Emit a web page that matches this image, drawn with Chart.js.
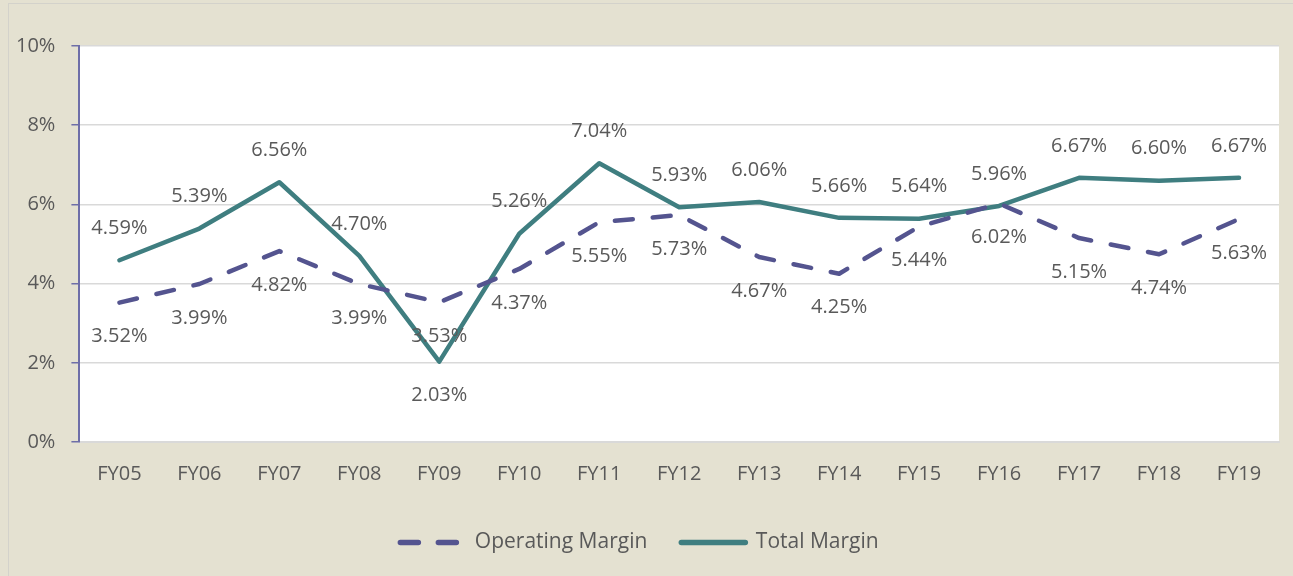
<!DOCTYPE html>
<html>
<head>
<meta charset="utf-8">
<script src="https://cdn.jsdelivr.net/npm/chart.js@4"></script>
<style>
  html, body { margin: 0; padding: 0; background: #e4e1d1; }
  #wrap { width: 1293px; height: 576px; }
</style>
</head>
<body>
<div id="wrap"><canvas id="myChart" width="1293" height="576"></canvas></div>
<script>
const years = ['FY05','FY06','FY07','FY08','FY09','FY10','FY11','FY12','FY13','FY14','FY15','FY16','FY17','FY18','FY19'];
const operatingMargin = [3.52, 3.99, 4.82, 3.99, 3.53, 4.37, 5.55, 5.73, 4.67, 4.25, 5.44, 6.02, 5.15, 4.74, 5.63];
const totalMargin = [4.59, 5.39, 6.56, 4.70, 2.03, 5.26, 7.04, 5.93, 6.06, 5.66, 5.64, 5.96, 6.67, 6.60, 6.67];
const yTicks = [0, 2, 4, 6, 8, 10];

const FONT = "'Open Sans', sans-serif";
const TEXT = '#595959';

// beige page, thin outer frame, white plot area
const background = {
  id: 'background',
  beforeDraw(chart) {
    const ctx = chart.ctx, a = chart.chartArea;
    ctx.save();
    ctx.fillStyle = '#e4e1d1';
    ctx.fillRect(0, 0, chart.width, chart.height);
    ctx.strokeStyle = '#d3d2cb';
    ctx.lineWidth = 1;
    ctx.strokeRect(8.5, 3.5, chart.width + 20, chart.height + 20);
    ctx.fillStyle = '#ffffff';
    ctx.fillRect(a.left, a.top, a.right - a.left, a.bottom - a.top);
    ctx.restore();
  }
};

// value labels: operating below the point, total above (below when well under operating)
const valueLabels = {
  id: 'valueLabels',
  afterDatasetsDraw(chart) {
    const ctx = chart.ctx;
    ctx.save();
    ctx.font = '20px ' + FONT;
    ctx.fillStyle = TEXT;
    ctx.textAlign = 'center';
    ctx.textBaseline = 'middle';
    chart.data.datasets.forEach((ds, i) => {
      const meta = chart.getDatasetMeta(i);
      meta.data.forEach((pt, j) => {
        const v = ds.data[j];
        let below = i === 0;
        if (i === 1 && v < operatingMargin[j] - 0.5) below = true;
        const dy = below ? 34 : -32;
        ctx.fillText(v.toFixed(2) + '%', pt.x, pt.y + dy);
      });
    });
    ctx.restore();
  }
};

const data = {
  labels: years,
  datasets: [
    {
      label: 'Operating Margin',
      data: operatingMargin,
      borderColor: '#54548f',
      backgroundColor: '#54548f',
      borderWidth: 4.5,
      borderDash: [18, 20],
      borderCapStyle: 'round',
      borderJoinStyle: 'round',
      pointRadius: 0,
      pointStyle: 'line',
      tension: 0
    },
    {
      label: 'Total Margin',
      data: totalMargin,
      borderColor: '#3f7e80',
      backgroundColor: '#3f7e80',
      borderWidth: 4.5,
      borderCapStyle: 'round',
      borderJoinStyle: 'round',
      pointRadius: 0,
      pointStyle: 'line',
      tension: 0
    }
  ]
};

const config = {
  type: 'line',
  data: data,
  options: {
    responsive: false,
    animation: false,
    layout: { padding: { top: 46, right: 14, left: 0, bottom: 13 } },
    plugins: {
      legend: {
        position: 'bottom',
        labels: {
          usePointStyle: true,
          pointStyleWidth: 64,
          boxWidth: 64,
          boxHeight: 10,
          padding: 34,
          color: TEXT,
          font: { family: FONT, size: 21 },
          generateLabels(chart) {
            const items = Chart.defaults.plugins.legend.labels.generateLabels(chart);
            items.forEach(item => {
              const ds = chart.data.datasets[item.datasetIndex];
              item.lineDash = ds.borderDash || [];
              item.lineWidth = 5.5;
              item.lineCap = 'round';
              item.strokeStyle = ds.borderColor;
            });
            return items;
          }
        }
      },
      tooltip: { enabled: false }
    },
    scales: {
      x: {
        offset: true,
        grid: { display: false },
        border: { color: '#d9d9d9', width: 2 },
        ticks: { color: TEXT, padding: 12, font: { family: FONT, size: 20 } }
      },
      y: {
        min: 0,
        max: 10,
        afterBuildTicks(axis) { axis.ticks = yTicks.map(v => ({ value: v })); },
        grid: { color: '#d9d9d9', lineWidth: 1.5, tickColor: '#6e6ea8', tickLength: 8 },
        border: { color: '#6e6ea8', width: 2 },
        ticks: {
          color: TEXT,
          padding: 16,
          font: { family: FONT, size: 20 },
          callback: v => v + '%'
        }
      }
    }
  },
  plugins: [background, valueLabels]
};

const myChart = new Chart(document.getElementById('myChart'), config);
</script>
</body>
</html>
